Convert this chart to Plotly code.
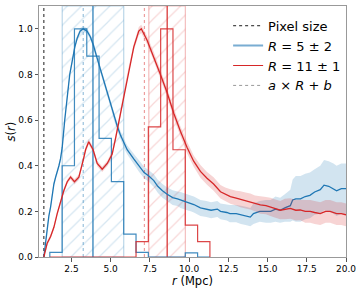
import plotly.graph_objects as go

# ---------------- data ----------------
pixel_size = 0.74
blue_line = 3.87
blue_pred = 3.25
blue_band = [1.91, 5.83]
red_line = 8.60
red_pred = 7.15
red_band = [7.43, 9.76]

hist_edges = [1.12, 1.905, 2.69, 3.475, 4.26, 5.045, 5.83, 6.615, 7.40, 8.185, 8.97, 9.755, 10.54, 11.325]
hist_blue = [0.02, 0.40, 1.0, 0.88, 0.52, 0.33, 0.10, 0.02, 0, 0, 0, 0.018, 0]
hist_red = [0, 0, 0, 0, 0, 0, 0, 0.067, 0.57, 1.0, 0.47, 0.14, 0.067]

r_blue = [0.74, 0.85, 0.95, 1.06, 1.17, 1.28, 1.38, 1.49, 1.59, 1.70, 1.80, 1.91, 2.07, 2.23, 2.39,
          2.55, 2.71, 2.87, 3.05, 3.25, 3.50, 3.70, 3.89, 4.12, 4.35, 4.57, 4.78, 5.0, 5.20, 5.41,
          5.62, 5.83, 6.05, 6.47, 6.79, 7.13, 7.43, 7.75, 8.0, 8.3, 8.6, 8.95, 9.26, 9.45, 9.87,
          10.1, 10.3, 10.72, 11.1, 11.4, 11.8, 12.0, 12.4, 12.6, 13.0, 13.3, 13.6, 13.9, 14.1, 14.5,
          14.9, 15.2, 15.5, 15.8, 16.1, 16.45, 16.6, 16.8, 17.1, 17.4, 17.7, 18.0, 18.36, 18.6, 18.9,
          19.2, 19.4, 19.7, 20.0]
s_blue = [0.0, 0.07, 0.13, 0.18, 0.22, 0.28, 0.32, 0.35, 0.37, 0.40, 0.43, 0.48, 0.60, 0.71, 0.80,
          0.86, 0.92, 0.96, 0.99, 1.0, 0.99, 0.965, 0.93, 0.875, 0.82, 0.77, 0.72, 0.67, 0.62, 0.575,
          0.535, 0.50, 0.47, 0.43, 0.40, 0.37, 0.355, 0.335, 0.31, 0.29, 0.275, 0.26, 0.255, 0.25, 0.24,
          0.235, 0.23, 0.215, 0.21, 0.205, 0.21, 0.20, 0.195, 0.19, 0.19, 0.185, 0.18, 0.175, 0.19, 0.20,
          0.20, 0.20, 0.21, 0.205, 0.215, 0.225, 0.25, 0.255, 0.255, 0.265, 0.27, 0.285, 0.295, 0.315, 0.31,
          0.30, 0.29, 0.30, 0.30]
err_blue = [0.0, 0.01, 0.01, 0.01, 0.01, 0.01, 0.01, 0.01, 0.01, 0.01, 0.01, 0.01, 0.012, 0.012, 0.012,
            0.012, 0.012, 0.012, 0.012, 0.012, 0.012, 0.012, 0.015, 0.015, 0.015, 0.015, 0.015, 0.015, 0.018, 0.018,
            0.018, 0.02, 0.02, 0.022, 0.025, 0.025, 0.025, 0.028, 0.028, 0.03, 0.03, 0.032, 0.032, 0.035, 0.035,
            0.035, 0.035, 0.035, 0.035, 0.035, 0.035, 0.035, 0.035, 0.038, 0.038, 0.04, 0.04, 0.04, 0.045, 0.045,
            0.05, 0.05, 0.055, 0.055, 0.06, 0.07, 0.09, 0.10, 0.10, 0.10, 0.10, 0.10, 0.105, 0.11, 0.11,
            0.11, 0.11, 0.11, 0.11]

r_red = [0.74, 0.95, 1.17, 1.38, 1.59, 1.80, 2.01, 2.23, 2.44, 2.69, 2.97, 3.25, 3.40, 3.60, 3.88,
         4.14, 4.46, 4.78, 5.09, 5.31, 5.62, 5.83, 6.15, 6.47, 6.79, 6.95, 7.32, 7.74, 8.17, 8.60,
         9.02, 9.45, 9.87, 10.29, 10.72, 11.14, 11.56, 12.0, 12.3, 12.63, 13.0, 13.27, 13.6, 13.9, 14.2,
         14.54, 14.9, 15.18, 15.5, 15.81, 16.1, 16.45, 16.8, 17.08, 17.4, 17.72, 18.0, 18.36, 18.7, 18.99,
         19.4, 19.7, 20.0]
s_red = [0.0, 0.06, 0.09, 0.13, 0.19, 0.24, 0.29, 0.33, 0.35, 0.33, 0.35, 0.425, 0.47, 0.505, 0.47,
         0.41, 0.385, 0.41, 0.45, 0.52, 0.63, 0.71, 0.82, 0.92, 0.99, 1.0, 0.95, 0.88, 0.80, 0.72,
         0.63, 0.55, 0.48, 0.42, 0.375, 0.345, 0.32, 0.286, 0.275, 0.265, 0.258, 0.253, 0.248, 0.243, 0.235,
         0.228, 0.225, 0.22, 0.212, 0.205, 0.21, 0.213, 0.205, 0.206, 0.20, 0.20, 0.195, 0.19, 0.20, 0.20,
         0.19, 0.19, 0.185]
err_red = [0.0, 0.01, 0.01, 0.01, 0.01, 0.01, 0.01, 0.01, 0.01, 0.012, 0.012, 0.012, 0.012, 0.012, 0.012,
           0.012, 0.012, 0.012, 0.015, 0.015, 0.015, 0.015, 0.015, 0.015, 0.018, 0.018, 0.018, 0.02, 0.02, 0.02,
           0.022, 0.022, 0.025, 0.025, 0.028, 0.028, 0.03, 0.03, 0.03, 0.032, 0.032, 0.035, 0.035, 0.035, 0.035,
           0.038, 0.038, 0.04, 0.04, 0.04, 0.045, 0.045, 0.045, 0.045, 0.05, 0.05, 0.05, 0.05, 0.05, 0.05,
           0.05, 0.05, 0.05]

x_ticks = [2.5, 5.0, 7.5, 10.0, 12.5, 15.0, 17.5, 20.0]
y_ticks = [0.0, 0.2, 0.4, 0.6, 0.8, 1.0]
x_range = [0.43, 20.0]
y_range = [0.0, 1.1]

BLUE = "#1f77b4"
RED = "#d62728"
FONT = "DejaVu Sans"

fig = go.Figure()

def band(lo, hi, rgb):
    fig.add_trace(go.Scatter(
        x=[lo, hi, hi, lo, lo], y=[y_range[0], y_range[0], y_range[1], y_range[1], y_range[0]],
        mode="lines", fill="toself",
        line=dict(color=f"rgba({rgb},0.3)", width=1.2),
        fillcolor="rgba(0,0,0,0)",
        fillpattern=dict(shape="/", fgcolor=f"rgba({rgb},0.38)", bgcolor="rgba(0,0,0,0)",
                         size=10, solidity=0.12),
        showlegend=False, hoverinfo="skip"))

band(blue_band[0], blue_band[1], "31,119,180")
band(red_band[0], red_band[1], "214,39,40")

def vline(xv, color, dash, width=1.2):
    fig.add_trace(go.Scatter(x=[xv, xv], y=y_range, mode="lines",
                             line=dict(color=color, dash=dash, width=width),
                             showlegend=False, hoverinfo="skip"))

vline(pixel_size, "black", "dot", 0.9)
vline(blue_pred, "rgba(31,119,180,0.45)", "dot")
vline(red_pred, "rgba(214,39,40,0.45)", "dot")
vline(blue_line, BLUE, "solid")
vline(red_line, RED, "solid")

# histograms (step outline)
hx = [hist_edges[0]] + hist_edges
fig.add_trace(go.Scatter(x=hx, y=[0] + hist_blue + [0], mode="lines", line_shape="hv",
                         line=dict(color="rgba(31,119,180,0.85)", width=1.2),
                         showlegend=False, hoverinfo="skip"))
fig.add_trace(go.Scatter(x=hx, y=[0] + hist_red + [0], mode="lines", line_shape="hv",
                         line=dict(color="rgba(214,39,40,0.85)", width=1.2),
                         showlegend=False, hoverinfo="skip"))

def curve(r, s, e, color, rgb):
    up = [a + b for a, b in zip(s, e)]
    lo = [a - b for a, b in zip(s, e)]
    fig.add_trace(go.Scatter(x=r + r[::-1], y=up + lo[::-1], fill="toself", mode="none",
                             fillcolor=f"rgba({rgb},0.2)", showlegend=False, hoverinfo="skip"))
    fig.add_trace(go.Scatter(x=r, y=s, mode="lines", line=dict(color=color, width=1.3),
                             showlegend=False))

curve(r_blue, s_blue, err_blue, BLUE, "31,119,180")
curve(r_red, s_red, err_red, RED, "214,39,40")

# legend entries
fig.add_trace(go.Scatter(x=[None], y=[None], mode="lines", name="Pixel size",
                         line=dict(color="black", dash="dot", width=0.9)))
fig.add_trace(go.Scatter(x=[None], y=[None], mode="lines", name="<i>R</i> = 5 ± 2",
                         line=dict(color="rgba(31,119,180,0.6)", width=2)))
fig.add_trace(go.Scatter(x=[None], y=[None], mode="lines", name="<i>R</i> = 11 ± 1",
                         line=dict(color=RED, width=1.2)))
fig.add_trace(go.Scatter(x=[None], y=[None], mode="lines", name="<i>a</i> × <i>R</i> + <i>b</i>",
                         line=dict(color="rgba(0,0,0,0.45)", dash="dot", width=0.9)))

axis_common = dict(showgrid=False, zeroline=False, showline=True, mirror=True,
                   linecolor="#999999", linewidth=1, ticks="outside", ticklen=3.5,
                   tickcolor="#555555", automargin=False,
                   tickfont=dict(size=9, color="black", family=FONT))

fig.update_layout(
    width=363, height=291,
    margin=dict(l=39, r=17, t=6, b=34),
    paper_bgcolor="white", plot_bgcolor="white",
    font=dict(family=FONT, color="black"),
    xaxis=dict(range=x_range, tickvals=x_ticks, ticktext=[f"{v:.1f}" for v in x_ticks],
               title=dict(text="<i>r</i> (Mpc)", font=dict(size=11.5), standoff=0), **axis_common),
    yaxis=dict(range=y_range, tickvals=y_ticks, ticktext=[f"{v:.1f}" for v in y_ticks],
               title=dict(text="<i>s</i>(<i>r</i>)", font=dict(size=11.5), standoff=0), **axis_common),
    legend=dict(x=0.616, y=0.981, xanchor="left", yanchor="top", bgcolor="rgba(255,255,255,0)",
                font=dict(size=13, family=FONT), itemwidth=30, tracegroupgap=0),
    showlegend=True,
)

fig.write_html("out.html", config={"displayModeBar": False},
               post_script="document.body.style.margin='0';document.body.style.overflow='hidden';")
